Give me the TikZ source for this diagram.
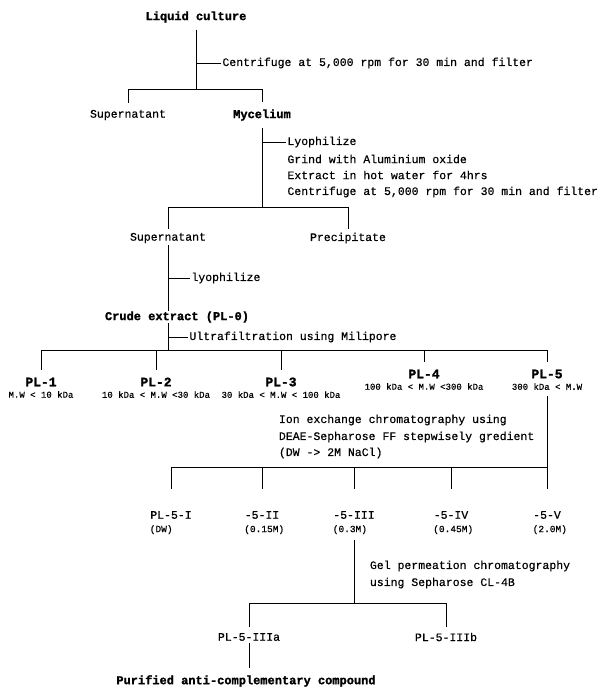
\documentclass[tikz,border=0pt]{standalone}
\usepackage{fontspec}
\setmainfont{Liberation Mono}[UprightFeatures={FakeBold=0.5}, BoldFeatures={FakeBold=1.5}]
\usetikzlibrary{positioning}

\begin{document}
\begin{tikzpicture}[x=1pt, y=-1pt, line width=0.9pt,
    txt/.style={font=\fontsize{11.5}{14}\selectfont, inner sep=1.5pt},
    head/.style={font=\bfseries\fontsize{12}{14}\selectfont, inner sep=1.5pt},
    frac/.style={font=\bfseries\fontsize{13}{15}\selectfont, inner sep=1pt},
    kda/.style={font=\fontsize{9}{11}\selectfont, inner sep=1pt},
    conc/.style={font=\fontsize{9.5}{11}\selectfont, inner sep=1pt},
    note/.style={txt, anchor=west, inner sep=1pt},
    stem/.style={shorten <=5pt},
    drop/.style={shorten >=#1}, drop/.default=5pt]
    \useasboundingbox (0,0) rectangle (600,688);

    % liquid culture
    \node[head] (liquid) at (196,17) {Liquid culture};
    \node[note] (spin1) at (221,63) {Centrifuge at 5,000 rpm for 30 min and filter};
    \node[txt] (sup1) at (128,115) {Supernatant};
    \node[head] (myc) at (262,115) {Mycelium};
    \coordinate (t1) at (196,63);
    \coordinate (b1) at (196,89);
    \draw[stem] (liquid) -- (b1);
    \draw (t1) -- (spin1);
    \draw (b1 -| sup1) -- (b1 -| myc);
    \foreach \n in {sup1,myc} \draw[drop] (b1 -| \n) -- (\n);

    % mycelium
    \node[note] (lyo) at (286,142) {Lyophilize};
    \node[note] at (286,159) {Grind with Aluminium oxide};
    \node[note] at (286,175) {Extract in hot water for 4hrs};
    \node[note] at (286,192) {Centrifuge at 5,000 rpm for 30 min and filter};
    \node[txt] (sup2) at (168,238) {Supernatant};
    \node[txt] (prec) at (348,238) {Precipitate};
    \coordinate (t2) at (262,142);
    \coordinate (b2) at (262,207);
    \draw[stem] (myc) -- (b2);
    \draw (t2) -- (lyo);
    \draw (b2 -| sup2) -- (b2 -| prec);
    \foreach \n in {sup2,prec} \draw[drop=2pt] (b2 -| \n) -- (\n);

    % crude extract
    \node[note] (lyo2) at (190,278) {lyophilize};
    \node[note] (uf) at (188,337) {Ultrafiltration using Milipore};
    \coordinate (t3) at (168,278);
    \coordinate (t4) at (168,337);
    \coordinate (b3) at (168,350);
    \draw (sup2) -- (b3);
    \draw (t3) -- (lyo2);
    \draw (t4) -- (uf);
    \node[head, fill=white, inner sep=0pt] (crude) at (177,317) {Crude extract (PL-0)};

    % PL fractions
    \node[frac] (pl1) at (41,382) {PL-1};
    \node[frac] (pl2) at (156,382) {PL-2};
    \node[frac] (pl3) at (281,382) {PL-3};
    \node[frac] (pl4) at (424,374) {PL-4};
    \node[frac] (pl5) at (547,374) {PL-5};
    \node[kda, below=2pt of pl1] (pl1w) {M.W < 10 kDa};
    \node[kda, below=2pt of pl2] (pl2w) {10 kDa < M.W <30 kDa};
    \node[kda, below=2pt of pl3] (pl3w) {30 kDa < M.W < 100 kDa};
    \node[kda, below=2pt of pl4] (pl4w) {100 kDa < M.W <300 kDa};
    \node[kda, below=2pt of pl5] (pl5w) {300 kDa < M.W};
    \draw (b3 -| pl1) -- (b3 -| pl5);
    \foreach \n in {pl1,pl2,pl3,pl4,pl5} \draw[drop=6pt] (b3 -| \n) -- (\n);

    % ion exchange
    \node[txt, anchor=west] at (277,420) {Ion exchange chromatography using};
    \node[txt, anchor=west] at (277,437) {DEAE-Sepharose FF stepwisely gredient};
    \node[txt, anchor=west] at (277,453) {(DW -> 2M NaCl)};
    \node[txt] (f1) at (171,515) {PL-5-I};
    \node[txt] (f2) at (262,515) {-5-II};
    \node[txt] (f3) at (354,515) {-5-III};
    \node[txt] (f4) at (451,515) {-5-IV};
    \node[txt] (f5) at (547,515) {-5-V};
    \foreach \n/\c in {f1/DW,f2/0.15M,f3/0.3M,f4/0.45M,f5/2.0M}
        \node[conc, below=3pt of \n.south west, anchor=north west] (c\n) {(\c)};
    \coordinate (b5) at (547,467);
    \draw[stem] (pl5w) -- (b5);
    \draw (b5 -| f1) -- (b5);
    \foreach \n in {f1,f2,f3,f4,f5} \draw[drop=20pt] (b5 -| \n) -- (\n);

    % gel permeation
    \node[txt, anchor=west] at (368,566) {Gel permeation chromatography};
    \node[txt, anchor=west] at (368,583) {using Sepharose CL-4B};
    \node[txt] (f3a) at (249,637) {PL-5-IIIa};
    \node[txt] (f3b) at (446,637) {PL-5-IIIb};
    \node[head] (pure) at (246,681) {Purified anti-complementary compound};
    \coordinate (b6) at (354,603);
    \draw[shorten <=4pt] (f3 |- cf3.south) -- (b6);
    \draw (b6 -| f3a) -- (b6 -| f3b);
    \foreach \n in {f3a,f3b} \draw[drop=4pt] (b6 -| \n) -- (\n);
    \draw[drop] (f3a) -- (f3a |- pure.north);
\end{tikzpicture}
\end{document}
